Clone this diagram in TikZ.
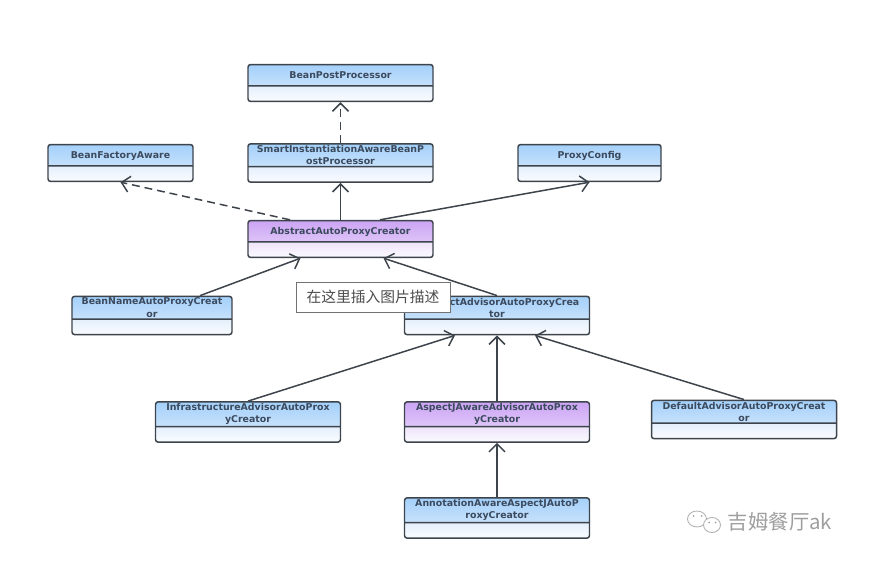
\documentclass[tikz,border=0pt]{standalone}
\usepackage{fontspec}
\setmainfont{DejaVu Sans}
\newfontfamily\cjk{Noto Sans CJK SC}
\usetikzlibrary{shapes.multipart, arrows.meta}
\definecolor{edgecol}{HTML}{3D444C}
\definecolor{textcol}{HTML}{3C4A5E}
\definecolor{bluea}{HTML}{A4D0FA}
\definecolor{blueb}{HTML}{DEEDFD}
\definecolor{bluec}{HTML}{E4EFFC}
\definecolor{blued}{HTML}{FAFCFF}
\definecolor{purpa}{HTML}{CCA4F4}
\definecolor{purpb}{HTML}{EBDCFB}
\definecolor{purpc}{HTML}{EEE4FA}
\definecolor{purpd}{HTML}{FCFAFF}
\tikzset{
  umlbox/.style n args={4}{rectangle split, rectangle split parts=2, rounded corners=1.5pt,
    draw=edgecol, line width=0.85pt, align=center, text=textcol, inner xsep=0pt, inner ysep=0.5pt,
    font=\fontsize{5.35}{7}\selectfont\bfseries,
    path picture={
      \shade[top color=#1, bottom color=#2] (path picture bounding box.north west) rectangle ([yshift=0.31cm]path picture bounding box.south east);
      \shade[top color=#3, bottom color=#4] ([yshift=0.31cm]path picture bounding box.south west) rectangle (path picture bounding box.south east);
    }},
  bluebox/.style={umlbox={bluea}{blueb}{bluec}{blued}, minimum width=3.7cm},
  purplebox/.style={umlbox={purpa}{purpb}{purpc}{purpd}, minimum width=3.7cm},
  solidarrow/.style={draw=edgecol, line width=0.85pt, -{Straight Barb[length=0.16cm,width=0.32cm]}},
  dashedarrow/.style={solidarrow, dash pattern=on 4.5pt off 2.8pt},
  wechat/.style={black!30, line width=0.5pt, fill=white}
}
\newcommand{\emptycell}{\nodepart{two}\rule{0pt}{7pt}}
\newcommand{\oneline}{\rule[-3.3pt]{0pt}{10.3pt}}
\begin{document}
\begin{tikzpicture}[node distance=2cm]
\useasboundingbox (0,0) rectangle (17.74,-11.32);

\node (bpp) [bluebox] at (6.81,-1.66) {\oneline BeanPostProcessor\emptycell};
\node (smart) [bluebox, below of=bpp, yshift=0.4cm] {SmartInstantiationAwareBeanP\\ostProcessor\emptycell};
\node (bfa) [bluebox, minimum width=2.9cm, left of=smart, xshift=-2.4cm] {\oneline BeanFactoryAware\emptycell};
\node (proxy) [bluebox, minimum width=2.86cm, right of=smart, xshift=2.98cm] {\oneline ProxyConfig\emptycell};
\node (abstract) [purplebox, below of=smart, yshift=0.48cm] {\oneline AbstractAutoProxyCreator\emptycell};

\node (beanname) [bluebox, minimum width=3.2cm, below of=abstract, yshift=0.47cm, xshift=-3.77cm] {BeanNameAutoProxyCreat\\or\emptycell};
\node (advisor) [bluebox, below of=abstract, yshift=0.47cm, xshift=3.13cm] {AbstractAdvisorAutoProxyCrea\\tor\emptycell};

\node (infra) [bluebox, below of=advisor, yshift=-0.13cm, xshift=-4.98cm] {InfrastructureAdvisorAutoProx\\yCreator\emptycell};
\node (aspectj) [purplebox, below of=advisor, yshift=-0.13cm] {AspectJAwareAdvisorAutoProx\\yCreator\emptycell};
\node (default) [bluebox, below of=advisor, yshift=-0.08cm, xshift=4.94cm] {DefaultAdvisorAutoProxyCreat\\or\emptycell};
\node (annot) [bluebox, below of=aspectj, yshift=0.08cm] {AnnotationAwareAspectJAutoP\\roxyCreator\emptycell};

\draw [dashedarrow] (smart) -- (bpp);
\draw [solidarrow] (abstract) -- (smart);
\draw [dashedarrow] ([xshift=-1.01cm]abstract.north) -- (bfa.south);
\draw [solidarrow] ([xshift=0.79cm]abstract.north) -- (proxy.south);

\draw [solidarrow] ([xshift=0.96cm]beanname.north) -- ([xshift=-0.8cm]abstract.south);
\draw [solidarrow] (advisor.north) -- ([xshift=0.86cm]abstract.south);

\draw [solidarrow] (infra.north) -- ([xshift=-0.84cm]advisor.south);
\draw [solidarrow] (aspectj) -- (advisor);
\draw [solidarrow] (default.north) -- ([xshift=0.76cm]advisor.south);
\draw [solidarrow] (annot) -- (aspectj);

% image placeholder over the class box
\node (note) [draw=black!55, line width=0.4pt, fill=white, minimum width=3.08cm, minimum height=0.6cm, inner sep=0pt, text=black!70, font=\cjk\fontsize{8.4}{10}\selectfont] at (7.46,-5.94) {在这里插入图片描述};

% watermark
\node (mark) [text=black!38, font=\cjk\fontsize{11.6}{13}\selectfont, inner sep=0pt] at (15.6,-10.44) {吉姆餐厅ak};
\draw [wechat] (13.94,-10.38) ellipse (0.19cm and 0.16cm);
\draw [wechat] (14.24,-10.5) ellipse (0.17cm and 0.15cm);
\foreach \x/\y in {13.87/-10.32, 14.03/-10.32, 14.18/-10.45, 14.31/-10.45}
  \fill [black!35] (\x,\y) circle (0.02cm);
\end{tikzpicture}
\end{document}
